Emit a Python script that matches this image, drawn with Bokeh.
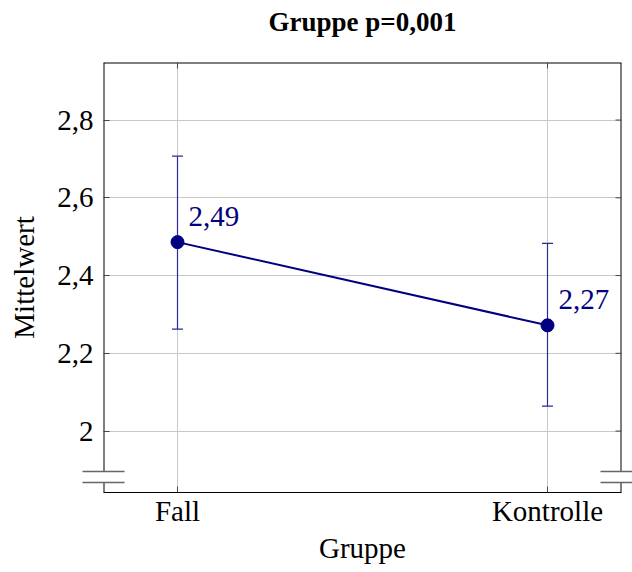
from bokeh.plotting import figure
from bokeh.models import (ColumnDataSource, FixedTicker, Range1d, Whisker,
                          TeeHead, CustomJSTickFormatter, LinearAxis)
from bokeh.core.properties import value
from bokeh.embed import file_html
from bokeh.resources import INLINE

# ---- data ----
categories = ["Fall", "Kontrolle"]
positions = [0, 1]
means = [2.486, 2.272]
err_upper = [2.707, 2.483]
err_lower = [2.262, 2.064]
value_labels = ["2,49", "2,27"]
y_ticks = [2.0, 2.2, 2.4, 2.6, 2.8]

title_text = "Gruppe p=0,001"
x_title = "Gruppe"
y_title = "Mittelwert"

# ---- style ----
SERIF = "Liberation Serif"
NAVY = "#000080"
ERR = "#2b2b9b"
GRID = "#c8c8c8"
TICK = "#444444"
BREAK_COL = "#666666"
FS = "29px"

X0, X1 = -0.2, 1.2
Y0, Y1 = 1.842, 2.948
BREAK_LOW, BREAK_HIGH = 1.869, 1.896
TICK_DX = 6 / 370.0     # 6 px inward ticks in data units
TICK_DY = 6 / 388.8

p = figure(width=632, height=572,
           x_range=Range1d(X0, X1), y_range=Range1d(Y0, Y1),
           output_backend="svg", toolbar_location=None,
           min_border_left=103, min_border_right=11,
           min_border_top=62, min_border_bottom=80)

p.background_fill_color = "white"
p.border_fill_color = "white"
p.outline_line_color = None

# axes
xa = p.xaxis[0]
xa.ticker = FixedTicker(ticks=positions)
xa.major_label_overrides = {pos: cat for pos, cat in zip(positions, categories)}
ya = p.yaxis[0]
ya.ticker = FixedTicker(ticks=y_ticks, minor_ticks=[BREAK_LOW, BREAK_HIGH])
ya.formatter = CustomJSTickFormatter(
    code="return (Math.round(tick*10)/10).toString().replace('.', ',');")

for ax in (xa, ya):
    ax.major_tick_in = 6
    ax.major_tick_out = 0
    ax.major_tick_line_color = TICK
    ax.major_label_text_font = SERIF
    ax.major_label_text_font_size = FS
    ax.major_label_text_color = "black"
    ax.axis_label_text_font = SERIF
    ax.axis_label_text_font_size = FS
    ax.axis_label_text_font_style = "normal"
    ax.axis_label_text_color = "black"

xa.minor_tick_line_color = None
xa.axis_line_color = "black"
xa.axis_label = x_title
xa.major_label_standoff = 2
xa.axis_label_standoff = 2

# left axis: no line (spine drawn below, with the break gap); break marks as minor ticks
ya.axis_line_color = None
ya.minor_tick_in = 21
ya.minor_tick_out = 21
ya.minor_tick_line_color = BREAK_COL
ya.minor_tick_line_width = 1.3
ya.axis_label = y_title
ya.major_label_standoff = -11
ya.axis_label_standoff = 14

# right axis: only the break marks
ra = LinearAxis(ticker=FixedTicker(ticks=[], minor_ticks=[BREAK_LOW, BREAK_HIGH]))
ra.axis_line_color = None
ra.major_tick_line_color = None
ra.minor_tick_in = 21
ra.minor_tick_out = 11
ra.minor_tick_line_color = BREAK_COL
ra.minor_tick_line_width = 1.3
ra.major_label_standoff = 0
p.add_layout(ra, "right")

# top axis: carries the chart title as its label
ta = LinearAxis(ticker=FixedTicker(ticks=[]))
ta.axis_line_color = None
ta.major_tick_line_color = None
ta.minor_tick_line_color = None
ta.major_label_standoff = 0
ta.axis_label = title_text
ta.axis_label_text_font = SERIF
ta.axis_label_text_font_size = "27px"
ta.axis_label_text_font_style = "bold"
ta.axis_label_text_color = "black"
ta.axis_label_standoff = 26
p.add_layout(ta, "above")

p.xgrid.grid_line_color = GRID
p.ygrid.grid_line_color = GRID
p.xgrid.grid_line_width = 1
p.ygrid.grid_line_width = 1

# spines (left/right with the axis-break gap, top); half-clipped by the frame -> 1 px
p.segment(x0=[X0, X0, X1, X1, X0], x1=[X0, X0, X1, X1, X1],
          y0=[Y0, BREAK_HIGH, Y0, BREAK_HIGH, Y1],
          y1=[BREAK_LOW, Y1, BREAK_LOW, Y1, Y1],
          line_color="black", line_width=2)

# mirrored inward ticks on the right and top spines
p.segment(x0=[X1 - TICK_DX] * len(y_ticks), x1=[X1] * len(y_ticks),
          y0=y_ticks, y1=y_ticks, line_color=TICK, line_width=1)
p.segment(x0=positions, x1=positions, y0=[Y1 - TICK_DY] * len(positions),
          y1=[Y1] * len(positions), line_color=TICK, line_width=1)

src = ColumnDataSource(dict(x=positions, y=means, upper=err_upper,
                            lower=err_lower, label=value_labels))

p.line("x", "y", source=src, line_color=NAVY, line_width=2)
p.add_layout(Whisker(source=src, base="x", upper="upper", lower="lower",
                     line_color=ERR, line_width=1.2,
                     upper_head=TeeHead(size=11, line_color=ERR, line_width=1.2),
                     lower_head=TeeHead(size=11, line_color=ERR, line_width=1.2)))
p.scatter("x", "y", source=src, size=13, fill_color=NAVY, line_color=NAVY)
p.text("x", "y", text="label", source=src, x_offset=11, y_offset=-26,
       text_align="left", text_baseline="alphabetic",
       text_font=value(SERIF), text_font_size=FS, text_color=NAVY)

open("out.html", "w").write(file_html(p, INLINE))
